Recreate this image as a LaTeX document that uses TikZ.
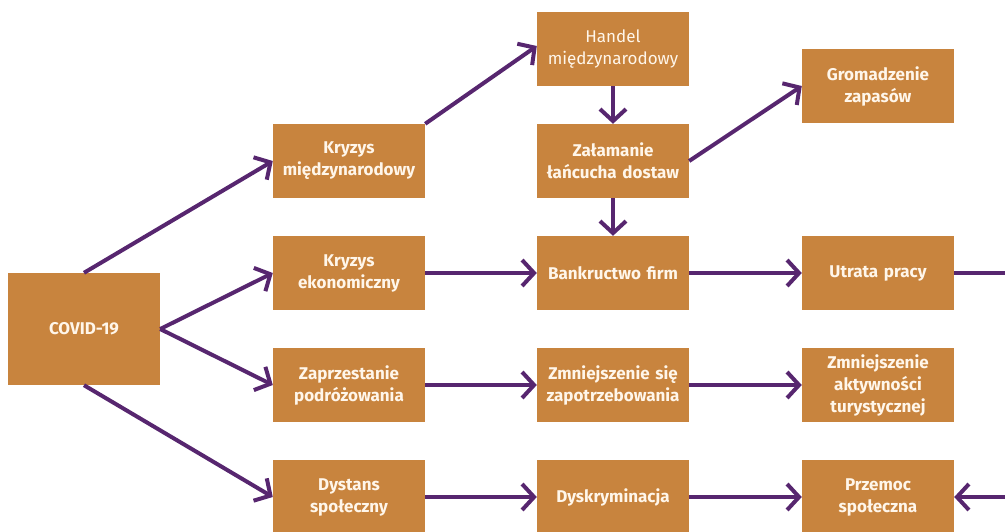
\documentclass[tikz,border=0pt]{standalone}
\usepackage{fontspec}
\setmainfont{Fira Sans}
\usetikzlibrary{arrows.meta}
\definecolor{boxc}{HTML}{C8843E}
\definecolor{arr}{HTML}{57266F}
\definecolor{txt}{HTML}{FFF6EA}
\begin{document}
\begin{tikzpicture}[x=1pt,y=-1pt,
 box/.style={fill=boxc, minimum width=152pt, minimum height=74pt, inner sep=0pt, text=txt, font=\fontsize{17}{22}\selectfont\bfseries, align=center, text width=150pt},
 conn/.style={draw=arr, line width=4pt, -{Straight Barb[length=12pt,width=26pt]}},
 plain/.style={draw=arr, line width=4pt},
]
\useasboundingbox (0,0) rectangle (1005,531);
\clip (0,0) rectangle (1005,531);
\node[box, minimum height=112pt] (covid) at (84,329) {COVID-19};
\node[box] (km) at (349,161) {Kryzys\\międzynarodowy};
\node[box] (ke) at (349,273) {Kryzys\\ekonomiczny};
\node[box] (zp) at (349,385) {Zaprzestanie\\podróżowania};
\node[box] (ds) at (349,497) {Dystans\\społeczny};
\node[box, font=\fontsize{17}{22}\selectfont\mdseries] (hm) at (613,49) {Handel\\międzynarodowy};
\node[box] (zl) at (613,161) {Załamanie\\łańcucha dostaw};
\node[box] (bf) at (613,273) {Bankructwo firm};
\node[box] (zs) at (613,385) {Zmniejszenie się\\zapotrzebowania};
\node[box] (dk) at (613,497) {Dyskryminacja};
\node[box] (gz) at (878,86) {Gromadzenie\\zapasów};
\node[box] (up) at (878,273) {Utrata pracy};
\node[box] (za) at (878,385) {Zmniejszenie\\aktywności\\turystycznej};
\node[box] (pz) at (878,497) {Przemoc\\społeczna};
\coordinate (r1) at (1010,273);
\coordinate (r2) at (1010,497);
\draw[conn] (covid.north) -- (km.west);
\draw[conn] (covid.east) -- (ke.west);
\draw[conn] (covid.east) -- (zp.west);
\draw[conn] (covid.south) -- (ds.west);
\draw[conn] (km.north east) -- ([yshift=3pt]hm.west);
\draw[conn] (hm.south) -- (zl.north);
\draw[conn] (zl.east) -- (gz.west);
\draw[conn] (zl.south) -- (bf.north);
\draw[conn] (ke.east) -- (bf.west);
\draw[conn] (bf.east) -- (up.west);
\draw[plain] (up.east) -- (r1);
\draw[conn] (zp.east) -- (zs.west);
\draw[conn] (zs.east) -- (za.west);
\draw[conn] (ds.east) -- (dk.west);
\draw[conn] (dk.east) -- (pz.west);
\draw[conn] (r2) -- (pz.east);
\end{tikzpicture}
\end{document}
